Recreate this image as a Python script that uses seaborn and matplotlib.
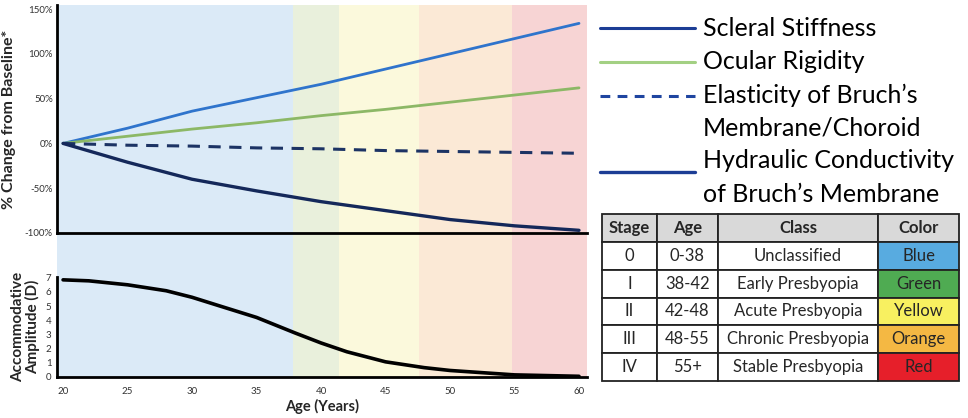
import matplotlib
matplotlib.use("Agg")
import matplotlib.pyplot as plt
import seaborn as sns

# --- data ---
ages = [20, 25, 30, 35, 40, 45, 50, 55, 60]
scleral_stiffness = [0, 17, 36, 51, 66, 83, 100, 117, 134]
ocular_rigidity = [0, 8, 16, 23, 31, 38, 46, 54, 62]
elasticity_bruch = [0, -2, -3, -5, -6, -8, -9, -10, -11]
hydraulic_cond = [0, -21, -40, -53, -65, -75, -85, -92, -97]

amp_ages = [20, 22, 25, 28, 30, 32, 35, 38, 40, 42, 45, 48, 50, 55, 60]
accom_amp = [6.85, 6.78, 6.5, 6.08, 5.62, 5.05, 4.2, 3.1, 2.4, 1.78, 1.07, 0.66, 0.46, 0.15, 0.05]

band_edges = [19.5, 37.8, 41.4, 47.6, 54.8, 60.6]
band_colors = ["#dbeaf7", "#e9f0dc", "#fbf9dc", "#fbe9d6", "#f7d4d4"]

pct_ticks = [-100, -50, 0, 50, 100, 150]
pct_labels = ["-100%", "-50%", "0%", "50%", "100%", "150%"]
age_ticks = [20, 25, 30, 35, 40, 45, 50, 55, 60]
amp_ticks = [0, 1, 2, 3, 4, 5, 6, 7]

legend_labels = [["Scleral Stiffness"], ["Ocular Rigidity"],
                 ["Elasticity of Bruch\u2019s", "Membrane/Choroid"],
                 ["Hydraulic Conductivity", "of Bruch\u2019s Membrane"]]

table_cols = ["Stage", "Age", "Class", "Color"]
table_stage = ["0", "I", "II", "III", "IV"]
table_age = ["0-38", "38-42", "42-48", "48-55", "55+"]
table_class = ["Unclassified", "Early Presbyopia", "Acute Presbyopia",
               "Chronic Presbyopia", "Stable Presbyopia"]
table_color = ["Blue", "Green", "Yellow", "Orange", "Red"]
table_swatch = ["#58abe0", "#4fab52", "#f8f060", "#f4b843", "#e61f2a"]

sns.set_style("white")
plt.rcParams["font.family"] = ["Lato", "DejaVu Sans"]

W, H = 968, 418
fig = plt.figure(figsize=(W / 100, H / 100), dpi=100)


def frac(x0, y0, x1, y1):
    # pixel box (top-left origin) -> figure fraction rect
    return [x0 / W, 1 - y1 / H, (x1 - x0) / W, (y1 - y0) / H]


xlim = (19.53, 60.62)

# background colour bands spanning both panels
ax_bg = fig.add_axes(frac(57, 5, 587, 377))
for i, c in enumerate(band_colors):
    ax_bg.axvspan(band_edges[i], band_edges[i + 1], color=c, lw=0)
ax_bg.set_xlim(xlim)
ax_bg.axis("off")

# --- top panel ---
ax1 = fig.add_axes(frac(57, 5, 587, 233))
ax1.patch.set_alpha(0)
sns.lineplot(x=ages, y=scleral_stiffness, ax=ax1, color="#2f74cc", lw=2)
sns.lineplot(x=ages, y=ocular_rigidity, ax=ax1, color="#8cb866", lw=2)
sns.lineplot(x=ages, y=elasticity_bruch, ax=ax1, color="#1c3364", lw=2.2,
             linestyle=(0, (4, 2.8)))
sns.lineplot(x=ages, y=hydraulic_cond, ax=ax1, color="#14285a", lw=2.4)
ax1.set_xlim(xlim)
ax1.set_ylim(-100, 154.5)
ax1.set_yticks(pct_ticks)
ax1.set_yticklabels(pct_labels)
ax1.set_xticks([])
ax1.tick_params(axis="y", length=0, pad=3, labelsize=7, labelcolor="#333333")
for s in ["top", "right"]:
    ax1.spines[s].set_visible(False)
for s in ["left", "bottom"]:
    ax1.spines[s].set_color("black")
    ax1.spines[s].set_linewidth(2)
ax1.set_ylabel("% Change from Baseline*", fontsize=11.5, fontweight="bold",
               labelpad=6)

# --- bottom panel ---
ax2 = fig.add_axes(frac(57, 277, 587, 377))
ax2.patch.set_alpha(0)
sns.lineplot(x=amp_ages, y=accom_amp, ax=ax2, color="black", lw=2.6)
ax2.set_xlim(xlim)
ax2.set_ylim(0, 7.05)
ax2.set_yticks(amp_ticks)
ax2.set_xticks(age_ticks)
ax2.tick_params(axis="both", length=0, labelsize=7, labelcolor="#333333")
ax2.tick_params(axis="x", pad=7)
ax2.tick_params(axis="y", pad=4)
for s in ["top", "right"]:
    ax2.spines[s].set_visible(False)
for s in ["left", "bottom"]:
    ax2.spines[s].set_color("black")
    ax2.spines[s].set_linewidth(2)
ax2.set_xlabel("Age (Years)", fontsize=10.5, fontweight="bold", labelpad=2)
ax2.set_ylabel("Accommodative\nAmplitude (D)", fontsize=11,
               fontweight="bold", labelpad=4, linespacing=1.0)

# --- legend drawn by hand ---
ax_leg = fig.add_axes(frac(595, 5, 968, 210))
ax_leg.set_xlim(595, 968)
ax_leg.set_ylim(210, 5)
ax_leg.axis("off")
leg_styles = [dict(color="#1c3d95", lw=2.2, ls="-"),
              dict(color="#a3d083", lw=2.2, ls="-"),
              dict(color="#1f45a0", lw=2.2, ls=(0, (3.2, 2.4))),
              dict(color="#1c3d95", lw=2.4, ls="-")]
leg_line_y = [28, 62, 96, 172]
leg_text_y = [[29], [62], [95, 128], [161, 194]]
for labs, st, ly, tys in zip(legend_labels, leg_styles, leg_line_y, leg_text_y):
    ax_leg.plot([600, 695], [ly, ly], **st)
    for lab, ty in zip(labs, tys):
        ax_leg.text(703, ty, lab, fontsize=18, va="center", ha="left",
                    color="black")

# --- stage table ---
ax_tab = fig.add_axes(frac(602, 214, 959, 381))
ax_tab.axis("off")
cells = [list(r) for r in zip(table_stage, table_age, table_class, table_color)]
tab = ax_tab.table(cellText=cells, colLabels=table_cols, bbox=[0, 0, 1, 1],
                   colWidths=[55, 61, 160, 81], cellLoc="center")
tab.auto_set_font_size(False)
for (r, c), cell in tab.get_celld().items():
    cell.set_edgecolor("#222222")
    cell.set_linewidth(1.3)
    cell.get_text().set_fontsize(12)
    if r == 0:
        cell.set_facecolor("#d9d9d9")
        cell.get_text().set_fontweight("bold")
    elif c == 3:
        cell.set_facecolor(table_swatch[r - 1])

fig.savefig("out.png", dpi=100)
